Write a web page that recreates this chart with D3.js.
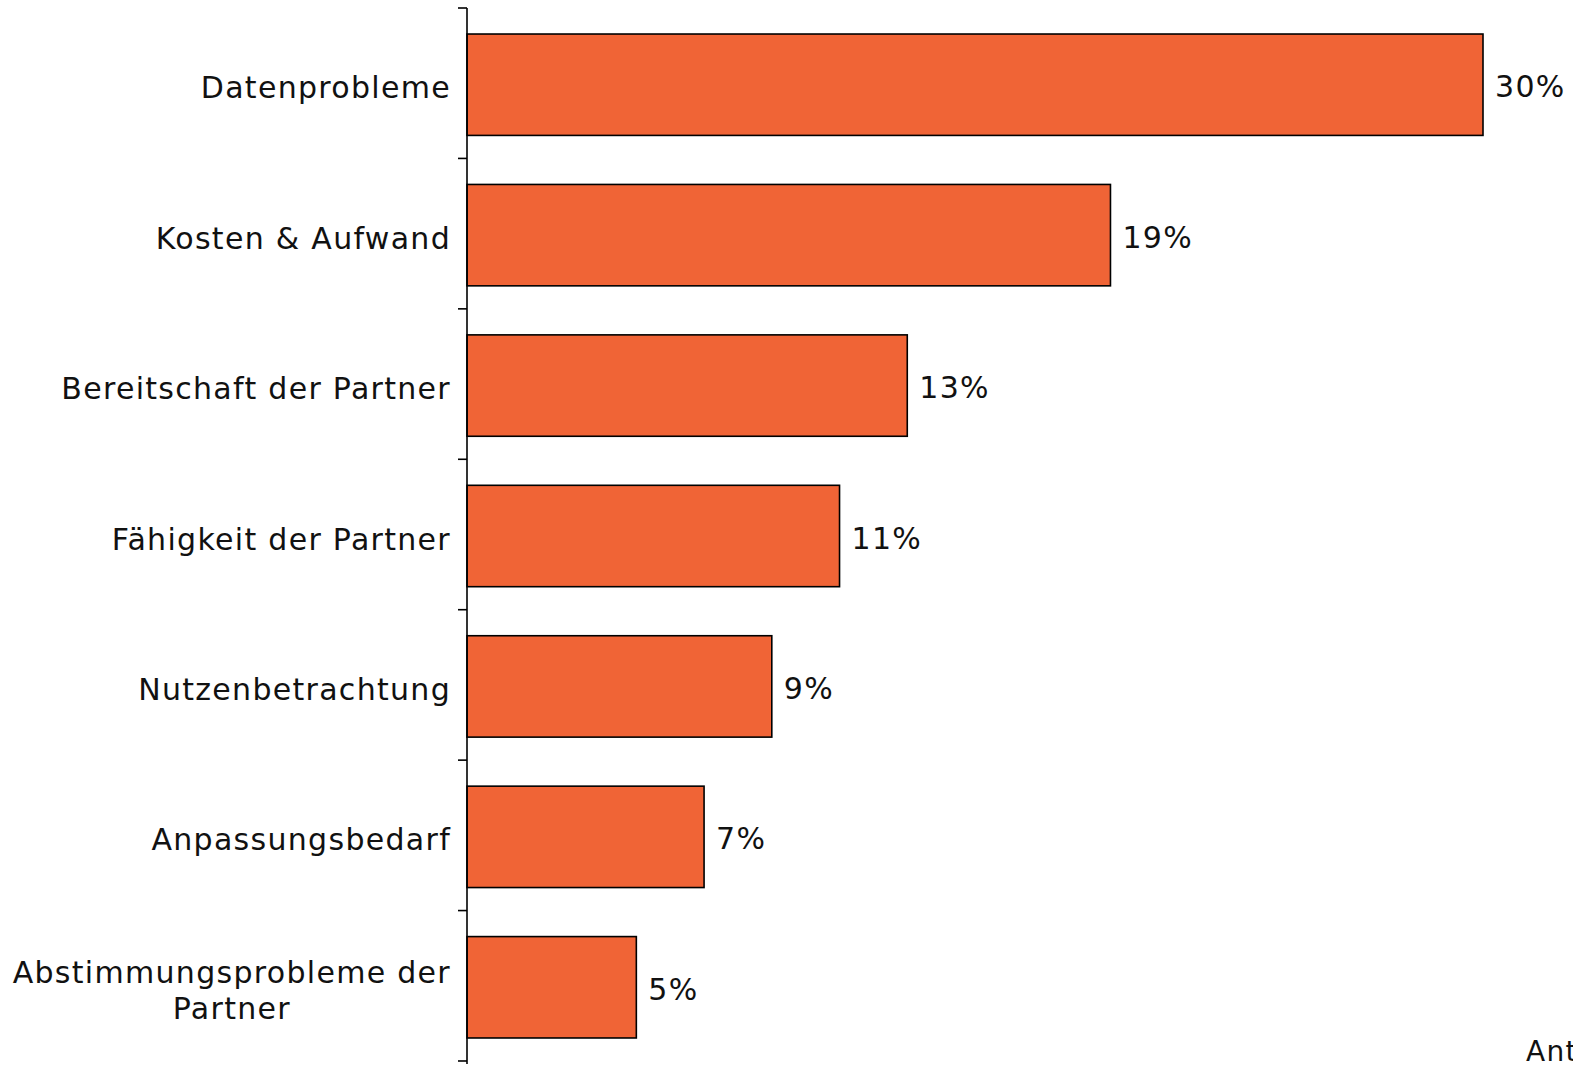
<!DOCTYPE html>
<html><head><meta charset="utf-8">
<script src="https://cdn.jsdelivr.net/npm/d3@7"></script>
<style>body{margin:0;background:#fff;overflow:hidden}svg{display:block}text{font-family:"DejaVu Sans",sans-serif;fill:#111;letter-spacing:1.3px}</style>
</head><body>
<svg id="c" width="1573" height="1066"></svg>
<script>
const categories = ["Datenprobleme","Kosten & Aufwand","Bereitschaft der Partner","Fähigkeit der Partner","Nutzenbetrachtung","Anpassungsbedarf","Abstimmungsprobleme der Partner"];
const values = [30,19,13,11,9,7,5];
const valueLabels = ["30%","19%","13%","11%","9%","7%","5%"];
const axisTitle = "Anteil";

const svg = d3.select("#c");
const fs = 30;
const x = d3.scaleLinear().domain([0,30]).range([467,1483]);
const y = d3.scaleBand().domain(categories).range([8,1064]).paddingInner(0.326).paddingOuter(0.173);

svg.selectAll("rect.bar").data(categories).join("rect").attr("class","bar")
  .attr("x",x(0)).attr("y",d=>y(d)).attr("width",(d,i)=>x(values[i])-x(0)).attr("height",y.bandwidth())
  .attr("fill","#F06436").attr("stroke","#000").attr("stroke-width",1.6);

const step = y.step();
const r = y.range();
svg.append("line").attr("x1",x(0)).attr("x2",x(0)).attr("y1",r[0]).attr("y2",r[1]).attr("stroke","#000").attr("stroke-width",1.6);
const bounds = d3.range(categories.length+1).map(k=>r[0]+k*step);
svg.selectAll("line.tick").data(bounds).join("line").attr("class","tick")
  .attr("x1",x(0)-9).attr("x2",x(0)).attr("y1",d=>d).attr("y2",d=>d).attr("stroke","#000").attr("stroke-width",1.6);

const labelX = 451;
const maxW = 440;
categories.forEach((c,i)=>{
  const cy = y(c)+y.bandwidth()/2 + 3;
  const t = svg.append("text").attr("font-size",fs).attr("text-anchor","end").attr("x",labelX).attr("y",cy).attr("dy","0.35em").text(c);
  if (t.node().getComputedTextLength() > maxW) {
    t.remove();
    const words = c.split(" ");
    const l1 = words.slice(0,-1).join(" "), l2 = words[words.length-1];
    const g = svg.append("text").attr("font-size",fs).attr("text-anchor","middle");
    const a = g.append("tspan").text(l1);
    const w = a.node().getComputedTextLength();
    const cx = labelX - w/2;
    a.attr("x",cx).attr("y",cy-18).attr("dy","0.35em");
    g.append("tspan").text(l2).attr("x",cx).attr("y",cy+18).attr("dy","0.35em");
  }
});

svg.selectAll("text.val").data(categories).join("text").attr("class","val")
  .attr("font-size",fs).attr("x",(d,i)=>x(values[i])+12).attr("y",d=>y(d)+y.bandwidth()/2+2).attr("dy","0.35em")
  .text((d,i)=>valueLabels[i]);

svg.append("text").attr("font-size",fs-2).attr("x",1526).attr("y",1061).text(axisTitle);
</script>
</body></html>
